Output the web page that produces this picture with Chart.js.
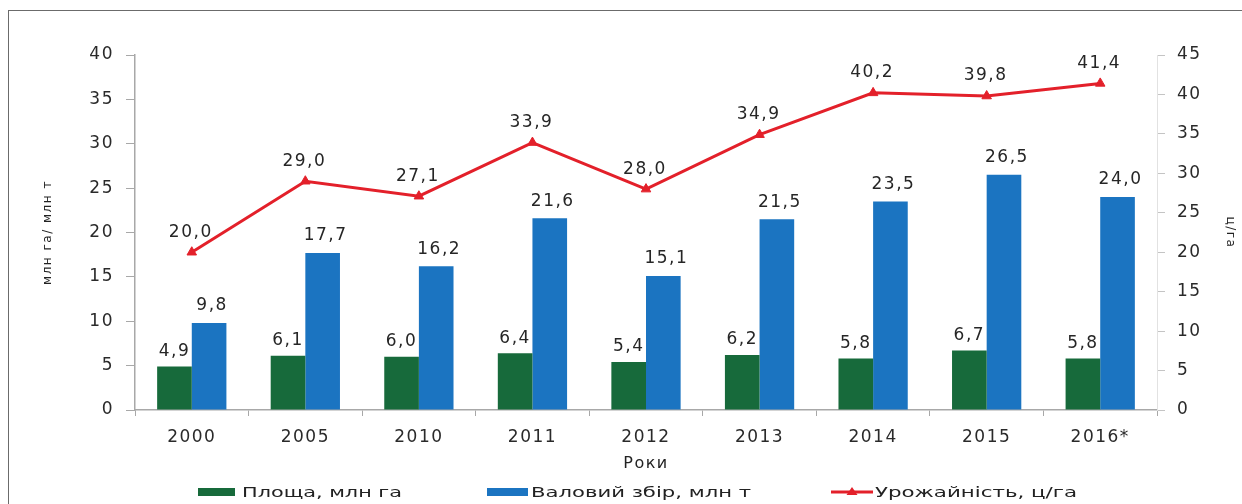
<!DOCTYPE html>
<html><head><meta charset="utf-8">
<script src="https://cdn.jsdelivr.net/npm/chart.js@4.4.1/dist/chart.umd.min.js"></script>
<style>
html,body{margin:0;padding:0;background:#fff;overflow:hidden;width:1242px;height:504px;}
#wrap{position:relative;width:1242px;height:504px;overflow:hidden;}
#frame{position:absolute;left:8px;top:10px;width:1400px;height:600px;border:1px solid #6b6b6b;box-sizing:border-box;}
canvas{position:absolute;left:0;top:0;}
.lgt{position:absolute;top:483px;font-family:"DejaVu Sans";font-size:14px;line-height:18px;color:#222;white-space:nowrap;transform-origin:0 50%;}
.lgb{position:absolute;}
</style></head>
<body><div id="wrap"><div id="frame"></div><canvas id="c" width="1242" height="504"></canvas>
<div class="lgb" style="left:198px;top:488px;width:37px;height:8px;background:#176a3b"></div>
<div class="lgt" id="t0" style="left:242px"></div>
<div class="lgb" style="left:487px;top:488px;width:41px;height:8px;background:#1b74c1"></div>
<div class="lgt" id="t1" style="left:531px"></div>
<svg class="lgb" style="left:831px;top:486px" width="42" height="12"><line x1="0" y1="6" x2="42" y2="6" stroke="#e3202a" stroke-width="3"/><polygon points="21,1 26.5,9 15.5,9" fill="#e3202a"/></svg>
<div class="lgt" id="t2" style="left:875px"></div>
</div>
<script>
const categories = ['2000', '2005', '2010', '2011', '2012', '2013', '2014', '2015', '2016*'];
const areaValues = [4.9, 6.1, 6.0, 6.4, 5.4, 6.2, 5.8, 6.7, 5.8];
const harvestValues = [9.8, 17.7, 16.2, 21.6, 15.1, 21.5, 23.5, 26.5, 24.0];
const yieldValues = [20.0, 29.0, 27.1, 33.9, 28.0, 34.9, 40.2, 39.8, 41.4];
const leftTickLabels = ['0', '5', '10', '15', '20', '25', '30', '35', '40'];
const rightTickLabels = ['0', '5', '10', '15', '20', '25', '30', '35', '40', '45'];
const seriesNames = ['Площа, млн га', 'Валовий збір, млн т', 'Урожайність, ц/га'];
const xTitle = 'Роки';
const leftTitle = 'млн га/ млн т';
const rightTitle = 'ц/га';

const GREEN = '#176a3b', BLUE = '#1b74c1', RED = '#e3202a';
const TICK_FONT = {family: 'DejaVu Sans', size: 17};
const TICK_COLOR = '#2a2a2a';
const AXIS_COLOR = '#a8a8a8';

// HTML legend text
const legendTargets = [160, 220, 202];
const mctx = document.createElement('canvas').getContext('2d');
mctx.font = '14px "DejaVu Sans"';
seriesNames.forEach((n, i) => {
  const el = document.getElementById('t' + i);
  el.textContent = n;
  const w = mctx.measureText(n).width;
  el.style.transform = 'scaleX(' + (legendTargets[i] / w).toFixed(3) + ')';
});

const spacing = {
  id: 'spacing',
  beforeLayout(chart) { chart.ctx.letterSpacing = '1.5px'; },
  beforeDraw(chart) { chart.ctx.letterSpacing = '1.5px'; }
};

const valueLabels = {
  id: 'valueLabels',
  afterDatasetsDraw(chart) {
    const ctx = chart.ctx;
    ctx.save();
    ctx.letterSpacing = '1.5px';
    ctx.font = '17px "DejaVu Sans"';
    ctx.fillStyle = '#262626';
    ctx.textAlign = 'center';
    ctx.textBaseline = 'middle';
    chart.data.datasets.forEach((ds, di) => {
      const meta = chart.getDatasetMeta(di);
      meta.data.forEach((el, i) => {
        const txt = ds.data[i].toFixed(1).replace('.', ',');
        let dx = 0, dy = 15;
        if (ds.type === 'line') { dx = -1; dy = 20; }
        else if (ds.label === seriesNames[1]) { dx = 3; dy = 17; }
        ctx.fillText(txt, el.x + dx, el.y - dy);
      });
    });
    ctx.restore();
  }
};

new Chart(document.getElementById('c'), {
  data: {
    labels: categories,
    datasets: [
      {type: 'line', label: seriesNames[2], data: yieldValues, yAxisID: 'y1', order: 0,
       borderColor: RED, backgroundColor: RED, borderWidth: 3, tension: 0,
       pointStyle: 'triangle', pointRadius: 5.5, pointBorderWidth: 1, pointBackgroundColor: RED, pointBorderColor: RED},
      {type: 'bar', label: seriesNames[0], data: areaValues, yAxisID: 'y', order: 1,
       backgroundColor: GREEN, categoryPercentage: 0.61, barPercentage: 1.0},
      {type: 'bar', label: seriesNames[1], data: harvestValues, yAxisID: 'y', order: 2,
       backgroundColor: BLUE, categoryPercentage: 0.61, barPercentage: 1.0}
    ]
  },
  options: {
    responsive: false,
    animation: false,
    layout: {padding: {top: 55, left: 0, right: 0, bottom: 0}},
    plugins: {legend: {display: false}, tooltip: {enabled: false}},
    scales: {
      x: {
        offset: true,
        grid: {drawOnChartArea: false, color: AXIS_COLOR, tickLength: 6, offset: true},
        border: {color: AXIS_COLOR, width: 1.5},
        ticks: {font: TICK_FONT, color: TICK_COLOR, padding: 11, maxRotation: 0, autoSkip: false},
        title: {display: true, text: xTitle, font: {family: 'DejaVu Sans', size: 16}, color: '#222', padding: {top: 0, bottom: 31}},
        afterFit(s) { s.height = 94; }
      },
      y: {
        position: 'left', min: 0, max: 40,
        grid: {drawOnChartArea: false, color: AXIS_COLOR, tickLength: 9},
        border: {color: AXIS_COLOR, width: 1.5},
        ticks: {stepSize: 5, font: TICK_FONT, color: TICK_COLOR, padding: 12,
                callback: (v, i) => leftTickLabels[i]},
        title: {display: true, text: leftTitle, font: {family: 'DejaVu Sans', size: 12}, color: '#222', padding: {top: 41, bottom: 0}},
        afterFit(s) { s.width = 135; }
      },
      y1: {
        position: 'right', min: 0, max: 45,
        grid: {drawOnChartArea: false, color: '#c4c4c4', tickLength: 8},
        border: {color: '#e2e2e2', width: 1},
        ticks: {stepSize: 5, font: TICK_FONT, color: TICK_COLOR, padding: 12,
                callback: (v, i) => rightTickLabels[i]},
        title: {display: true, text: rightTitle, font: {family: 'DejaVu Sans', size: 12}, color: '#222', padding: {top: 5, bottom: 0}},
        afterFit(s) { s.width = 85; }
      }
    }
  },
  plugins: [spacing, valueLabels]
});
</script>
</body></html>
